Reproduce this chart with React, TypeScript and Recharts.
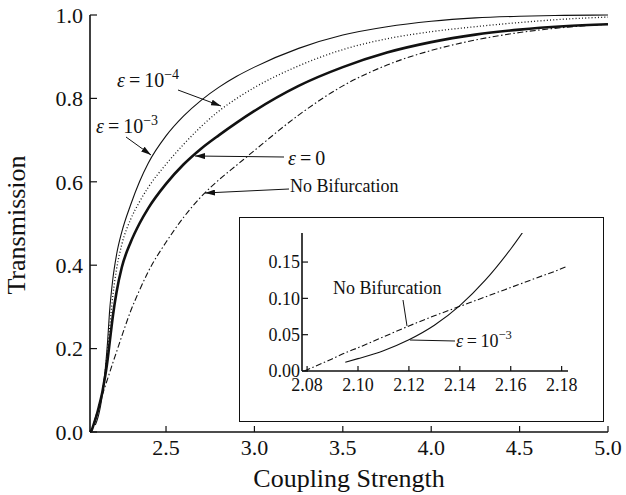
import { LineChart, Line, XAxis, YAxis } from 'recharts'

// main panel: transmission vs coupling strength
const coupling = [2.07, 2.08, 2.09, 2.10, 2.11, 2.12, 2.13, 2.14, 2.15, 2.16, 2.17, 2.18, 2.20, 2.22, 2.25, 2.30, 2.35, 2.40, 2.50, 2.60, 2.70, 2.80, 2.90, 3.00, 3.25, 3.50, 3.75, 4.00, 4.25, 4.50, 4.75, 5.00]
const transEps3 = [null, null, null, 0.017, 0.028, 0.043, 0.063, 0.09, 0.125, 0.168, 0.22, 0.285, 0.37, 0.425, 0.48, 0.545, 0.60, 0.645, 0.71, 0.758, 0.796, 0.827, 0.853, 0.875, 0.92, 0.952, 0.972, 0.985, 0.993, 0.997, 0.999, 1.0]
const transEps4 = [0, 0.005, 0.017, 0.03, 0.044, 0.06, 0.078, 0.098, 0.125, 0.16, 0.20, 0.245, 0.33, 0.39, 0.45, 0.51, 0.552, 0.587, 0.642, 0.69, 0.733, 0.77, 0.80, 0.826, 0.878, 0.917, 0.943, 0.96, 0.972, 0.982, 0.99, 0.995]
const transEps0 = [0, 0.005, 0.017, 0.03, 0.044, 0.06, 0.077, 0.096, 0.12, 0.145, 0.175, 0.21, 0.28, 0.335, 0.395, 0.455, 0.50, 0.537, 0.595, 0.642, 0.68, 0.712, 0.742, 0.77, 0.83, 0.875, 0.91, 0.935, 0.953, 0.965, 0.973, 0.978]
const transNoBif = [null, 0.002, 0.018, 0.033, 0.048, 0.062, 0.076, 0.089, 0.102, 0.115, 0.128, 0.141, 0.167, 0.192, 0.23, 0.29, 0.34, 0.385, 0.455, 0.515, 0.565, 0.605, 0.64, 0.675, 0.76, 0.83, 0.88, 0.915, 0.94, 0.958, 0.97, 0.978]

const mainTicksX = [2.5, 3.0, 3.5, 4.0, 4.5, 5.0]
const mainTicksY = [0, 0.2, 0.4, 0.6, 0.8, 1.0]

// inset: zoom on the threshold
const insetCoupling = [2.079, 2.09, 2.095, 2.10, 2.11, 2.12, 2.13, 2.14, 2.15, 2.16, 2.17, 2.18, 2.182]
const insetNoBif = [0, 0.017, 0.025, 0.032, 0.047, 0.062, 0.076, 0.089, 0.102, 0.115, 0.128, 0.141, 0.144]
const insetEps3 = [null, null, 0.012, 0.017, 0.028, 0.043, 0.063, 0.09, 0.125, 0.168, 0.218, null, null]

const insetTicksX = [2.08, 2.10, 2.12, 2.14, 2.16, 2.18]
const insetTicksY = [0, 0.05, 0.10, 0.15]

const mainData = coupling.map((x, i) => ({
  x, eps3: transEps3[i], eps4: transEps4[i], eps0: transEps0[i], nobif: transNoBif[i],
}))
const insetData = insetCoupling.map((x, i) => ({ x, nobif: insetNoBif[i], eps3: insetEps3[i] }))

const INK = '#111'
const SERIF = '"Liberation Serif", "DejaVu Serif", serif'

// ticks point inward on every side
const bottomTick = (size: number, font: number, digits: number, gap: number) => (p: any) => (
  <g>
    <line x1={p.x} y1={p.y} x2={p.x} y2={p.y - size} stroke={INK} strokeWidth={1.2} />
    <text x={p.x} y={p.y + gap} textAnchor="middle" fontFamily={SERIF} fontSize={font} fill={INK}>
      {Number(p.payload.value).toFixed(digits)}
    </text>
  </g>
)
const leftTick = (size: number, font: number, digits: number, gap: number) => (p: any) => (
  <g>
    <line x1={p.x} y1={p.y} x2={p.x + size} y2={p.y} stroke={INK} strokeWidth={1.2} />
    <text x={p.x - gap} y={p.y} dy="0.35em" textAnchor="end" fontFamily={SERIF} fontSize={font} fill={INK}>
      {Number(p.payload.value).toFixed(digits)}
    </text>
  </g>
)
const topTick = (size: number) => (p: any) => (
  <line x1={p.x} y1={p.y} x2={p.x} y2={p.y + size} stroke={INK} strokeWidth={1.2} />
)
const rightTick = (size: number) => (p: any) => (
  <line x1={p.x} y1={p.y} x2={p.x - size} y2={p.y} stroke={INK} strokeWidth={1.2} />
)

const axisLine = { stroke: INK, strokeWidth: 1.6 }

function Eps({ x, y, exp, size }: { x: number; y: number; exp: string; size: number }) {
  return (
    <text x={x} y={y} fontFamily={SERIF} fontSize={size} fill={INK}>
      <tspan fontStyle="italic">ε</tspan>
      {'\u2009=\u200910'}
      <tspan dy={-size * 0.42} fontSize={size * 0.7}>{exp}</tspan>
    </text>
  )
}

export default function App() {
  return (
    <div style={{ position: 'absolute', left: 0, top: 0, width: 626, height: 495, background: '#fff' }}>
      <LineChart width={626} height={495} data={mainData} margin={{ top: 15, right: 18, bottom: 33, left: 40 }}>
        <XAxis dataKey="x" type="number" domain={[2.07, 5.0]} ticks={mainTicksX} interval={0}
          height={30} tickSize={0} tickMargin={0} tickLine={false} axisLine={axisLine}
          tick={bottomTick(6, 22, 1, 23)} />
        <XAxis xAxisId="top" orientation="top" type="number" domain={[2.07, 5.0]} ticks={mainTicksX}
          interval={0} height={0} tickSize={0} tickMargin={0} tickLine={false} axisLine={axisLine}
          tick={topTick(6)} />
        <YAxis type="number" domain={[0, 1]} ticks={mainTicksY} interval={0} width={50}
          tickSize={0} tickMargin={0} tickLine={false} axisLine={axisLine}
          tick={leftTick(7, 22, 1, 7)} />
        <YAxis yAxisId="right" orientation="right" type="number" domain={[0, 1]} ticks={mainTicksY}
          interval={0} width={0} tickSize={0} tickMargin={0} tickLine={false} axisLine={axisLine}
          tick={rightTick(6)} />
        <Line dataKey="nobif" type="monotone" stroke={INK} strokeWidth={1.1} strokeDasharray="6 2.5 1.5 2.5"
          dot={false} isAnimationActive={false} />
        <Line dataKey="eps0" type="monotone" stroke={INK} strokeWidth={2.6} dot={false} isAnimationActive={false} />
        <Line dataKey="eps4" type="monotone" stroke={INK} strokeWidth={1.3} strokeDasharray="1 2.2"
          dot={false} isAnimationActive={false} />
        <Line dataKey="eps3" type="monotone" stroke={INK} strokeWidth={1.1} dot={false} isAnimationActive={false} />
      </LineChart>

      {/* inset panel */}
      <div style={{ position: 'absolute', left: 239, top: 217, width: 365, height: 205, background: '#fff' }}>
        <LineChart width={365} height={205} data={insetData} margin={{ top: 16, right: 36, bottom: 26, left: 13 }}>
          <XAxis dataKey="x" type="number" domain={[2.078, 2.1825]} ticks={insetTicksX} interval={0}
            height={25} tickSize={0} tickMargin={0} tickLine={false} axisLine={axisLine}
            tick={bottomTick(5, 18, 2, 20)} />
          <XAxis xAxisId="top" orientation="top" type="number" domain={[2.078, 2.1825]} height={0}
            tick={false} tickLine={false} axisLine={axisLine} />
          <YAxis type="number" domain={[0, 0.19]} ticks={insetTicksY} interval={0} width={50}
            allowDataOverflow tickSize={0} tickMargin={0} tickLine={false} axisLine={axisLine}
            tick={leftTick(6, 18, 2, 2)} />
          <YAxis yAxisId="right" orientation="right" type="number" domain={[0, 0.19]} width={0}
            tick={false} tickLine={false} axisLine={axisLine} />
          <Line dataKey="nobif" type="monotone" stroke={INK} strokeWidth={1.1} strokeDasharray="6 2.5 1.5 2.5"
            dot={false} isAnimationActive={false} />
          <Line dataKey="eps3" type="monotone" stroke={INK} strokeWidth={1.1} dot={false} isAnimationActive={false} />
        </LineChart>
        <div style={{ position: 'absolute', inset: 0, border: `1.6px solid ${INK}`, pointerEvents: 'none' }} />
      </div>

      {/* labels and arrows */}
      <svg width={626} height={495} style={{ position: 'absolute', left: 0, top: 0, pointerEvents: 'none' }}>
        <defs>
          <marker id="ah" viewBox="0 0 10 6" refX="10" refY="3" markerWidth="10" markerHeight="6"
            markerUnits="userSpaceOnUse" orient="auto">
            <path d="M0,0 L10,3 L0,6 Z" fill={INK} />
          </marker>
        </defs>
        <text x={16} y={225} transform="rotate(-90 16 225)" dy="0.35em" textAnchor="middle"
          fontFamily={SERIF} fontSize={26} fill={INK}>Transmission</text>
        <text x={349} y={487} textAnchor="middle" fontFamily={SERIF} fontSize={26} fill={INK}>Coupling Strength</text>

        <Eps x={117} y={87} exp="−4" size={20} />
        <line x1={178} y1={90} x2={221} y2={106} stroke={INK} strokeWidth={1} markerEnd="url(#ah)" />
        <Eps x={96} y={133} exp="−3" size={20} />
        <line x1={126} y1={137} x2={151} y2={155} stroke={INK} strokeWidth={1} markerEnd="url(#ah)" />
        <text x={288} y={165} fontFamily={SERIF} fontSize={20} fill={INK}>
          <tspan fontStyle="italic">ε</tspan>{'\u2009=\u20090'}
        </text>
        <line x1={284} y1={157} x2={195} y2={156} stroke={INK} strokeWidth={1} markerEnd="url(#ah)" />
        <text x={290} y={192} fontFamily={SERIF} fontSize={18} fill={INK}>No Bifurcation</text>
        <line x1={289} y1={189} x2={205} y2={193} stroke={INK} strokeWidth={1} markerEnd="url(#ah)" />

        <text x={333} y={294} fontFamily={SERIF} fontSize={18} fill={INK}>No Bifurcation</text>
        <line x1={403} y1={300} x2={407} y2={326} stroke={INK} strokeWidth={1} />
        <Eps x={456} y={347} exp="−3" size={18} />
        <line x1={410} y1={340} x2={455} y2={341} stroke={INK} strokeWidth={1} />
      </svg>
    </div>
  )
}
